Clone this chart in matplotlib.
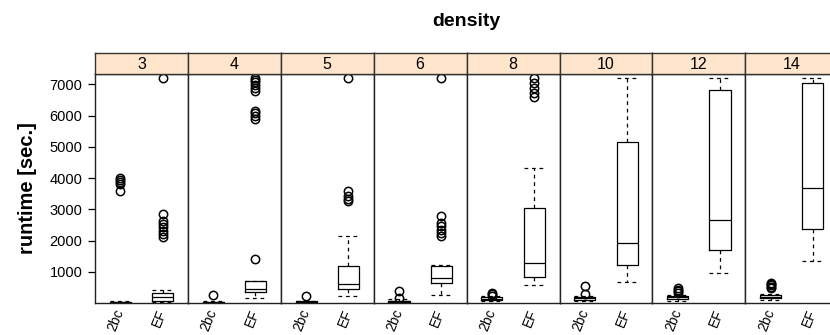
import matplotlib
matplotlib.use("Agg")
import matplotlib.pyplot as plt

plt.rcParams['font.family'] = ['Liberation Sans', 'DejaVu Sans']

densities = ["3", "4", "5", "6", "8", "10", "12", "14"]
methods = ["2bc", "EF"]

# 2bc box statistics per density
bc_lo  = [5, 5, 5, 10, 60, 50, 80, 110]
bc_q1  = [10, 15, 15, 30, 110, 110, 140, 150]
bc_med = [20, 30, 30, 50, 140, 150, 180, 200]
bc_q3  = [30, 45, 50, 80, 180, 200, 220, 250]
bc_hi  = [50, 70, 80, 120, 210, 230, 260, 280]
bc_fliers = [
    [3570, 3800, 3880, 3950, 4010],
    [260],
    [230],
    [170, 400],
    [240, 280, 320],
    [290, 540],
    [320, 370, 420, 470],
    [470, 520, 570, 610, 650],
]

# EF box statistics per density
ef_lo  = [30, 170, 210, 250, 570, 670, 970, 1360]
ef_q1  = [70, 360, 460, 640, 840, 1210, 1700, 2370]
ef_med = [190, 450, 620, 800, 1290, 1930, 2670, 3680]
ef_q3  = [330, 700, 1180, 1200, 3040, 5150, 6830, 7030]
ef_hi  = [410, 720, 2160, 1230, 4320, 7200, 7200, 7200]
ef_fliers = [
    [2100, 2200, 2320, 2420, 2520, 2620, 2850, 7200],
    [1400, 5880, 5980, 6080, 6160, 6780, 6880, 6980, 7080, 7150, 7200],
    [3250, 3330, 3430, 3600, 7200],
    [2150, 2250, 2350, 2450, 2550, 2800, 7200],
    [6580, 6720, 6880, 7040, 7200],
    [],
    [],
    [],
]

yticks = [1000, 2000, 3000, 4000, 5000, 6000, 7000]

W, H = 830, 335
fig = plt.figure(figsize=(W / 100, H / 100), dpi=100)

left_px = 95.0
pw = 92.9
bottom_px = 303.0
top_px = 74.0
strip_top = 53.0

strip_col = "#FFE5CC"
dash = (0, (3, 3))

for i, d in enumerate(densities):
    x0 = left_px + i * pw
    ax = fig.add_axes([x0 / W, 1 - bottom_px / H, pw / W, (bottom_px - top_px) / H])
    stats = [
        dict(whislo=bc_lo[i], q1=bc_q1[i], med=bc_med[i], q3=bc_q3[i], whishi=bc_hi[i],
             fliers=bc_fliers[i], label=methods[0]),
        dict(whislo=ef_lo[i], q1=ef_q1[i], med=ef_med[i], q3=ef_q3[i], whishi=ef_hi[i],
             fliers=ef_fliers[i], label=methods[1]),
    ]
    ax.bxp(stats, positions=[1, 2], widths=0.5, capwidths=0.5, showfliers=True,
           boxprops=dict(color="black", linewidth=0.9),
           medianprops=dict(color="black", linewidth=0.9),
           whiskerprops=dict(color="black", linewidth=0.9, linestyle=dash),
           capprops=dict(color="black", linewidth=0.9, linestyle=dash),
           flierprops=dict(marker="o", markerfacecolor="none", markeredgecolor="black",
                           markersize=6, markeredgewidth=1.1))
    ax.set_xlim(0.4, 2.6)
    ax.set_ylim(0, 7330)
    ax.set_xticks([1, 2])
    ax.set_xticklabels(methods, rotation=68, ha="right", va="center",
                       rotation_mode="anchor", fontsize=10)
    ax.tick_params(axis="x", length=0, pad=5)
    if i == 0:
        ax.set_yticks(yticks)
        ax.set_yticklabels([str(t) for t in yticks], fontsize=10.5)
        ax.tick_params(axis="y", length=5, width=0.9, pad=4)
        ax.set_ylabel("runtime [sec.]", fontsize=14.5, fontweight="bold", labelpad=9)
    else:
        ax.set_yticks([])
    for s in ax.spines.values():
        s.set_linewidth(1.0)
        s.set_color("#222222")

    sax = fig.add_axes([x0 / W, 1 - top_px / H, pw / W, (top_px - strip_top) / H])
    sax.set_facecolor(strip_col)
    sax.set_xticks([])
    sax.set_yticks([])
    for s in sax.spines.values():
        s.set_linewidth(1.0)
        s.set_color("#333333")
    sax.text(0.5, 0.45, d, ha="center", va="center", fontsize=11.5, transform=sax.transAxes)

fig.text((left_px + 4 * pw) / W, 1 - 21 / H, "density", ha="center", va="center",
         fontsize=14, fontweight="bold")

fig.savefig("out.png", dpi=100)
